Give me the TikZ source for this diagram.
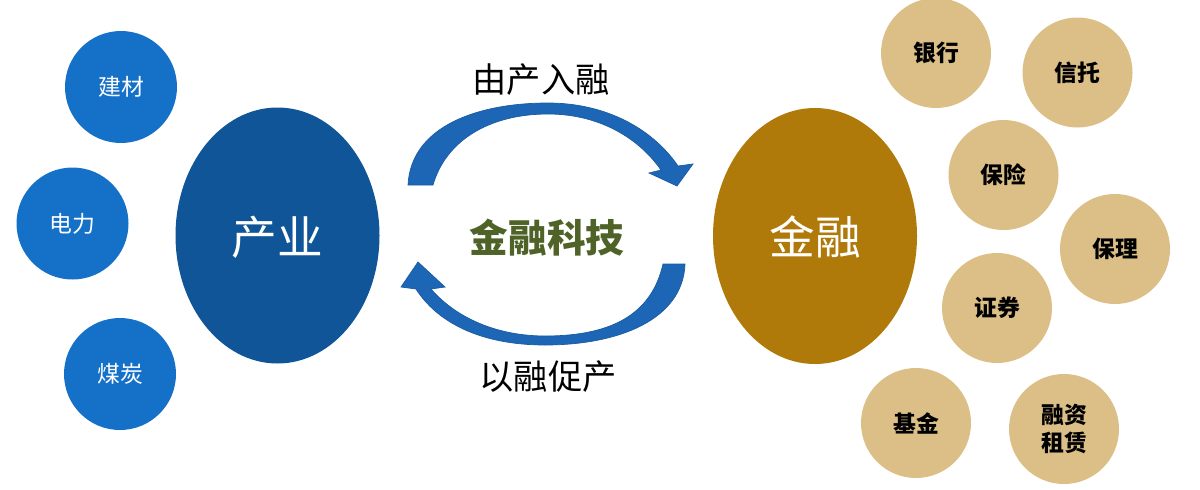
\documentclass[tikz,border=0pt]{standalone}
\usepackage{fontspec}
\usetikzlibrary{shapes.geometric}
\newfontfamily\cjk{Noto Sans CJK SC}
\definecolor{smallblue}{HTML}{1570C8}
\definecolor{bigblue}{HTML}{0F5597}
\definecolor{biggold}{HTML}{B07A0A}
\definecolor{smallgold}{HTML}{DBBF87}
\definecolor{olive}{HTML}{4F6228}
\definecolor{arrowblue}{HTML}{1D66B5}
\definecolor{arrowedge}{HTML}{1A5CA3}
\begin{document}
\begin{tikzpicture}[x=0.02cm,y=-0.02cm,
  bluec/.style={circle,fill=smallblue,minimum size=112*0.02cm,inner sep=0pt,text=white,font=\cjk\fontsize{13pt}{15pt}\selectfont},
  goldc/.style={circle,fill=smallgold,minimum size=110*0.02cm,inner sep=0pt,text=black,align=center,font=\cjk\bfseries\fontsize{13pt}{16pt}\selectfont},
  bigell/.style={ellipse,minimum width=204*0.02cm,minimum height=256*0.02cm,inner sep=0pt,text=white,font=\cjk\fontsize{26pt}{30pt}\selectfont},
  lab/.style={font=\cjk\fontsize{19.5pt}{22pt}\selectfont,text=black},
  arrowshape/.style={fill=arrowblue,draw=arrowedge,line width=0.4pt}]
\useasboundingbox (0,0) rectangle (1200,490);
% left small circles
\node[bluec] (jiancai) at (121,87) {建材};
\node[bluec] (dianli) at (72.5,223.5) {电力};
\node[bluec] (meitan) at (120,374) {煤炭};
% big ellipses
\node[bigell,fill=bigblue] (chanye) at (277.5,235.5) {};
\node[text=white,font=\cjk\fontsize{26pt}{30pt}\selectfont] (chanyetxt) at (277.5,237) {产业};
\node[bigell,fill=biggold] (jinrong) at (815,236) {};
\node[text=white,font=\cjk\fontsize{26pt}{30pt}\selectfont] (jinrongtxt) at (815,237) {金融};
% right small circles
\node[goldc] (yinhang) at (936,53) {银行};
\node[goldc] (xintuo) at (1077.5,72.5) {信托};
\node[goldc] (baoxian) at (1003.5,175) {保险};
\node[goldc] (baoli) at (1115,249) {保理};
\node[goldc] (zhengquan) at (997,308) {证券};
\node[goldc] (jijin) at (916,423) {基金};
\node[goldc] (zulin) at (1064,429) {融资\\租赁};
% labels
\node[lab] (top) at (541,80) {由产入融};
\node[font=\cjk\bfseries\fontsize{22pt}{26pt}\selectfont,text=olive] (fintech) at (547,238) {金融科技};
\node[lab] (bottom) at (548,377) {以融促产};
% top curved arrow
\path[arrowshape] (408,185) .. controls (411,126) and (478,103) .. (548,103)
  .. controls (605,103) and (652,128) .. (678,166)
  -- (693,164) -- (677,186) -- (649,173) -- (661,170)
  .. controls (638,137) and (598,114) .. (548,114)
  .. controls (490,114) and (446,140) .. (433,185) -- cycle;
% bottom curved arrow
\path[arrowshape] (685,264) .. controls (683,319) and (620,345) .. (545,345)
  .. controls (480,345) and (437,322) .. (416,289)
  -- (401,287) -- (418,262) -- (445,287) -- (431,289)
  .. controls (458,320) and (500,336) .. (545,336)
  .. controls (615,336) and (652,312) .. (663,264) -- cycle;
\end{tikzpicture}
\end{document}
